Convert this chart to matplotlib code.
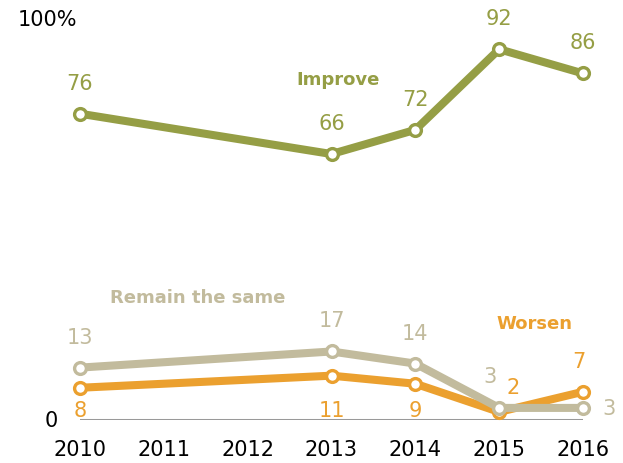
import matplotlib.pyplot as plt

plt.rcParams['font.family'] = ['DejaVu Sans']

years = [2010, 2013, 2014, 2015, 2016]
tick_years = [2010, 2011, 2012, 2013, 2014, 2015, 2016]
improve = [76, 66, 72, 92, 86]
remain = [13, 17, 14, 3, 3]
worsen = [8, 11, 9, 2, 7]

green = '#959e45'
beige = '#c2bb9d'
orange = '#eba02f'

fig = plt.figure(figsize=(6.23, 4.64), dpi=100)
ax = fig.add_axes([80 / 623, 43 / 464, 503 / 623, 403 / 464])
ax.set_xlim(2010, 2016)
ax.set_ylim(0, 100)

def draw(vals, color, z):
    ax.plot(years, vals, color=color, lw=5.8, marker='o', ms=8.5,
            mfc='white', mec=color, mew=2.4, clip_on=False, zorder=z,
            solid_capstyle='round')

def label(x, v, text, color, dx, dy):
    # offsets in pixels from the point, text centred
    ax.annotate(text, (x, v), xytext=(dx * 0.72, dy * 0.72),
                textcoords='offset points', ha='center', va='center',
                fontsize=15, color=color)

ax.axhline(0, color='#999999', lw=2.2, zorder=1)
draw(worsen, orange, 3)
draw(remain, beige, 4)
draw(improve, green, 5)

# value labels
for x, v in zip(years, improve):
    label(x, v, str(v), green, 0, 31)

for x, v in zip(years[:3], remain[:3]):
    label(x, v, str(v), beige, 0, 31)
label(years[3], remain[3], str(remain[3]), beige, -9, 32)
label(years[4], remain[4], str(remain[4]), beige, 26, 0)

for x, v in zip(years[:3], worsen[:3]):
    ax.text(x, 2.6, str(v), ha='center', va='center', fontsize=15, color=orange)
label(years[3], worsen[3], str(worsen[3]), orange, 14, 25)
label(years[4], worsen[4], str(worsen[4]), orange, -4, 31)

# series names
ax.text(2013.08, 84.6, 'Improve', ha='center', va='center', fontsize=13,
        fontweight='bold', color=green)
ax.text(2011.40, 30.5, 'Remain the same', ha='center', va='center',
        fontsize=13, fontweight='bold', color=beige)
ax.text(2015.42, 24.1, 'Worsen', ha='center', va='center', fontsize=13,
        fontweight='bold', color=orange)

# y-axis end labels
fig.text(58 / 623, 1 - 421 / 464, '0', ha='right', va='center', fontsize=15)
fig.text(18 / 623, 1 - 19.5 / 464, '100%', ha='left', va='center', fontsize=15)

ax.set_xticks(tick_years)
ax.set_xticklabels([str(y) for y in tick_years], fontsize=15)
ax.tick_params(axis='x', length=0, pad=14)
ax.set_yticks([])
for s in ax.spines.values():
    s.set_visible(False)

plt.savefig('out.png', dpi=100)
